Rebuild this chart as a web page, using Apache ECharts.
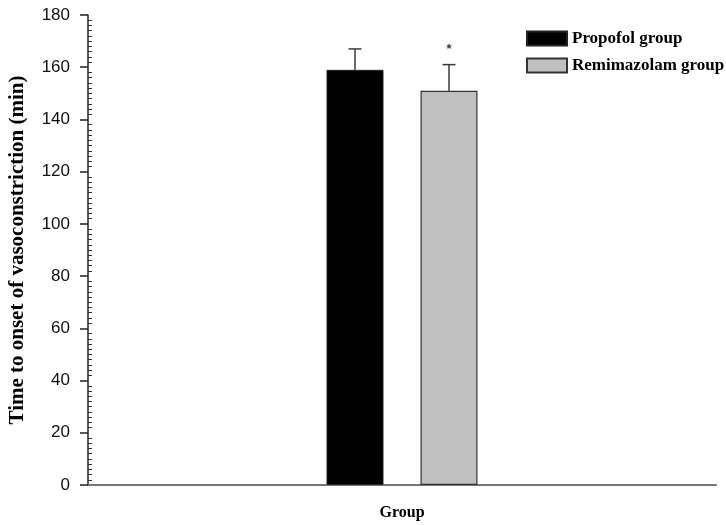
<!DOCTYPE html>
<html>
<head>
<meta charset="utf-8">
<script src="https://cdn.jsdelivr.net/npm/echarts@6/dist/echarts.min.js"></script>
<style>
    html, body { margin: 0; padding: 0; background: #fff; }
    #main { width: 726px; height: 525px; }
</style>
</head>
<body>
<div id="main"></div>
<script>
// 数据
var categories = ['Group'];
var seriesNames = ['Propofol group', 'Remimazolam group'];
var meanValues = [159, 151];
var errValues = [8, 10];
var sigMarks = ['', '*'];
var yTicks = { min: 0, max: 180, interval: 20 };

var barWidth = 57;
var barGapPx = 37;
var barColors = ['#000000', '#c0c0c0'];

// 误差棒
function errorSeries(idx) {
    var offset = (idx === 0 ? -1 : 1) * (barWidth + barGapPx) / 2;
    return {
        type: 'custom',
        name: seriesNames[idx] + ' err',
        silent: true,
        z: 5,
        data: [[0, meanValues[idx], meanValues[idx] + errValues[idx]]],
        renderItem: function (params, api) {
            var base = api.coord([api.value(0), api.value(1)]);
            var top = api.coord([api.value(0), api.value(2)]);
            var x = base[0] + offset;
            var style = { stroke: '#3a3a3a', lineWidth: 1.5 };
            var children = [
                { type: 'line', shape: { x1: x, y1: base[1], x2: x, y2: top[1] }, style: style },
                { type: 'line', shape: { x1: x - 6.5, y1: top[1], x2: x + 6.5, y2: top[1] }, style: style }
            ];
            if (sigMarks[idx]) {
                children.push({
                    type: 'text',
                    style: {
                        text: sigMarks[idx],
                        x: x,
                        y: top[1] - 15,
                        align: 'center',
                        verticalAlign: 'middle',
                        font: 'bold 13px "Liberation Sans"',
                        fill: '#333'
                    }
                });
            }
            return { type: 'group', children: children };
        }
    };
}

var option = {
    animation: false,
    grid: {
        left: 88,
        right: 10,
        top: 15,
        bottom: 40,
        outerBoundsMode: 'none',
        containLabel: false
    },
    legend: {
        orient: 'vertical',
        left: 521,
        top: 25,
        icon: 'rect',
        itemWidth: 40,
        itemHeight: 14,
        itemGap: 10,
        data: seriesNames,
        textStyle: {
            fontFamily: '"Liberation Serif"',
            fontWeight: 'bold',
            fontSize: 17,
            color: '#000'
        }
    },
    xAxis: {
        type: 'category',
        data: categories,
        axisLine: { lineStyle: { color: '#777', width: 2 } },
        axisTick: { alignWithLabel: true, length: 5, lineStyle: { color: '#444' } },
        axisLabel: {
            margin: 20,
            fontFamily: '"Liberation Serif"',
            fontWeight: 'bold',
            fontSize: 16,
            color: '#000'
        }
    },
    yAxis: [{
        type: 'value',
        min: yTicks.min,
        max: yTicks.max,
        interval: yTicks.interval,
        name: 'Time to onset of vasoconstriction (min)',
        nameLocation: 'middle',
        nameGap: 60,
        nameTextStyle: {
            fontFamily: '"Liberation Serif"',
            fontWeight: 'bold',
            fontSize: 21,
            color: '#000'
        },
        axisLine: { show: true, lineStyle: { color: '#222', width: 1.5 } },
        axisTick: { show: true, length: 8, lineStyle: { color: '#222', width: 1.5 } },
        splitLine: { show: false },
        axisLabel: {
            margin: 18,
            fontFamily: '"Liberation Sans"',
            fontSize: 17,
            color: '#111'
        }
    }, {
        // 小刻度朝内
        type: 'value',
        position: 'right',
        offset: -(716 - 88),
        min: yTicks.min,
        max: yTicks.max,
        interval: yTicks.interval,
        axisLine: { show: false },
        axisTick: { show: false },
        axisLabel: { show: false },
        splitLine: { show: false },
        minorTick: { show: true, splitNumber: 10, length: 4, lineStyle: { color: '#333', width: 1 } }
    }],
    series: [{
        name: seriesNames[0],
        type: 'bar',
        barWidth: barWidth,
        barGap: (barGapPx / barWidth * 100) + '%',
        itemStyle: { color: barColors[0], borderColor: '#222', borderWidth: 1 },
        data: [meanValues[0]]
    }, {
        name: seriesNames[1],
        type: 'bar',
        barWidth: barWidth,
        itemStyle: { color: barColors[1], borderColor: '#333', borderWidth: 1.2 },
        data: [meanValues[1]]
    },
        errorSeries(0),
        errorSeries(1)
    ]
};

//初始化echarts实例
var myChart = echarts.init(document.getElementById('main'));
myChart.setOption(option);
</script>
</body>
</html>
